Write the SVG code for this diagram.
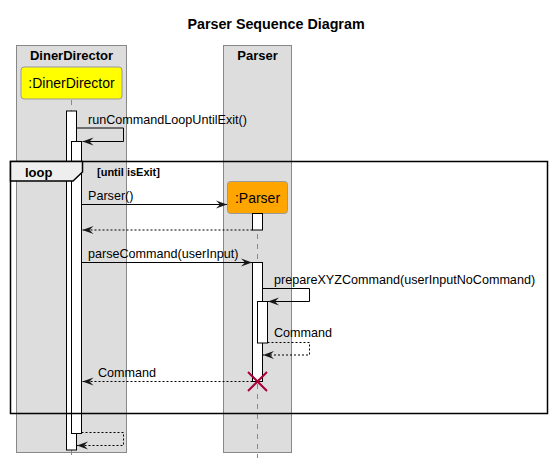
<svg xmlns="http://www.w3.org/2000/svg" width="552" height="464" viewBox="0 0 552 464">
<style>
text{font-family:"Liberation Sans",Arial,sans-serif;fill:#000}
.title{font-size:14.3px;font-weight:bold;text-anchor:middle}
.boxt{font-size:13px;font-weight:bold;text-anchor:middle}
.part{font-size:14px;text-anchor:middle}
.msg{font-size:12.6px}
.box{fill:#DDDDDD;stroke:#888888;stroke-width:1}
.life{stroke:#888888;stroke-width:1;stroke-dasharray:5,5;fill:none}
.act{fill:#FFFFFF;stroke:#000;stroke-width:1}
.line{stroke:#000;stroke-width:1;fill:none}
.dash{stroke:#000;stroke-width:1;fill:none;stroke-dasharray:2,2}
.frame{fill:none;stroke:#000;stroke-width:1.5}
</style>
<defs>
<marker id="ah" markerWidth="12" markerHeight="10" refX="11" refY="5" orient="auto" markerUnits="userSpaceOnUse">
<polygon points="0,1 11,5 0,9 4,5" fill="#181818"/>
</marker>
</defs>
<rect width="552" height="464" fill="#FFFFFF"/>
<text class="title" x="276" y="29">Parser Sequence Diagram</text>

<g id="box-dinerdirector">
<rect class="box" x="16.5" y="45.5" width="110" height="407"/>
<text class="boxt" x="71.5" y="60">DinerDirector</text>
</g>
<g id="box-parser">
<rect class="box" x="223.5" y="45.5" width="68" height="407"/>
<text class="boxt" x="257.5" y="60">Parser</text>
</g>

<g id="lifelines">
<line class="life" x1="71.5" y1="100" x2="71.5" y2="458"/>
<line class="life" x1="257.5" y1="214" x2="257.5" y2="458"/>
</g>

<g id="participant-dinerdirector">
<rect x="21" y="67" width="101" height="32" rx="3" fill="#FFFF00" stroke="#999999"/>
<text class="part" x="71.5" y="88">:DinerDirector</text>
</g>

<g id="activations">
<rect class="act" x="66.5" y="111" width="10" height="339"/>
<rect class="act" x="71.5" y="141.5" width="10" height="292"/>
</g>

<g id="loop-frame">
<rect class="frame" x="10.5" y="161.5" width="537" height="252"/>
<polygon points="10.5,161.5 82.5,161.5 82.5,172 73,181 10.5,181" fill="#EEEEEE" stroke="#000" stroke-width="1.5"/>
<text x="25" y="177" style="font-size:13px;font-weight:bold">loop</text>
<text x="97" y="175.5" style="font-size:11px;font-weight:bold">[until isExit]</text>
</g>

<g id="participant-parser">
<rect x="227.5" y="181.5" width="60" height="32" rx="3" fill="#FFA500" stroke="#999999"/>
<text class="part" x="257.5" y="203">:Parser</text>
</g>

<g id="parser-activations">
<rect class="act" x="252.5" y="213.5" width="10" height="16.5"/>
<rect class="act" x="252.5" y="262.5" width="10" height="119"/>
<rect class="act" x="257.5" y="301.5" width="10" height="41.5"/>
</g>

<g id="connectors">
<polyline class="line" points="76.5,128 123.5,128 123.5,141.5 82.5,141.5" marker-end="url(#ah)"/>
<line class="line" x1="81.5" y1="204.5" x2="227" y2="204.5" marker-end="url(#ah)"/>
<line class="dash" x1="252.5" y1="230" x2="82.5" y2="230" marker-end="url(#ah)"/>
<line class="line" x1="81.5" y1="262.5" x2="252" y2="262.5" marker-end="url(#ah)"/>
<polyline class="line" points="262.5,288.5 309.5,288.5 309.5,301.5 268,301.5" marker-end="url(#ah)"/>
<polyline class="dash" points="267.5,342.5 309.5,342.5 309.5,355 263,355" marker-end="url(#ah)"/>
<line class="dash" x1="252.5" y1="381.5" x2="82.5" y2="381.5" marker-end="url(#ah)"/>
<polyline class="dash" points="81.5,432.5 123.5,432.5 123.5,445.5 77,445.5" marker-end="url(#ah)"/>
</g>

<g id="labels">
<text class="msg" x="88" y="124">runCommandLoopUntilExit()</text>
<text class="msg" x="88" y="200">Parser()</text>
<text class="msg" x="88" y="258">parseCommand(userInput)</text>
<text class="msg" x="274" y="284">prepareXYZCommand(userInputNoCommand)</text>
<text class="msg" x="274" y="337">Command</text>
<text class="msg" x="98" y="377">Command</text>
</g>

<g id="destroy">
<line x1="248" y1="372" x2="267" y2="391" stroke="#A80036" stroke-width="2"/>
<line x1="248" y1="391" x2="267" y2="372" stroke="#A80036" stroke-width="2"/>
</g>
</svg>
